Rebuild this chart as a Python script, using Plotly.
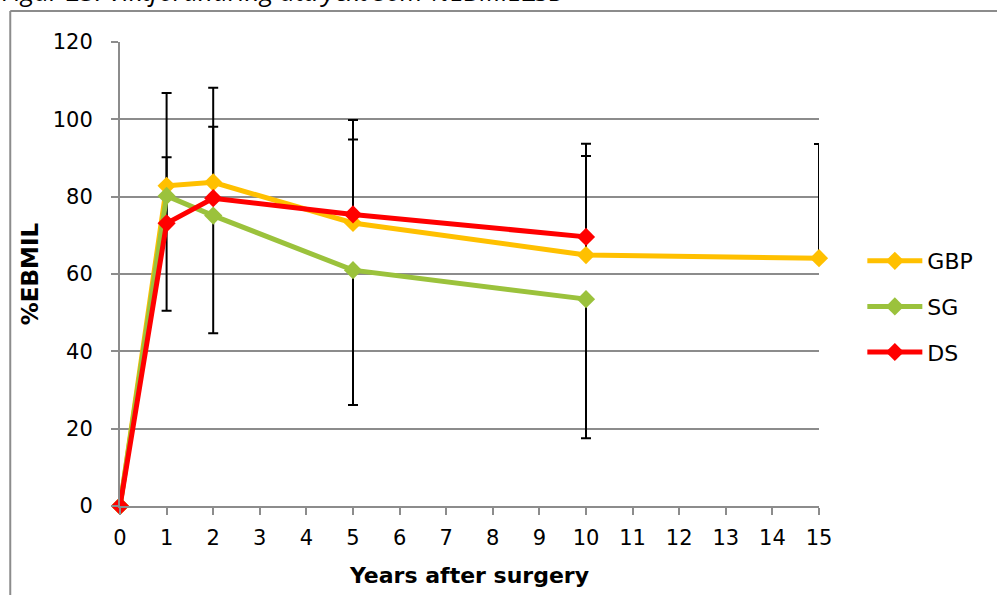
import plotly.graph_objects as go

# Follow-up years and mean %EBMIL per procedure
years = [0, 1, 2, 5, 10, 15]
gbp = [0, 82.8, 83.7, 73.2, 64.9, 64.1]
sg = [0, 80.2, 75.1, 61.0, 53.5]
ds = [0, 73.1, 79.6, 75.4, 69.6]

# Standard deviations (GBP/DS shown upward, SG shown downward)
gbp_sd = [None, 24.0, 24.5, 26.6, 28.8, 29.5]
sg_sd = [None, 29.7, 30.4, 34.9, 36.0]
ds_sd = [None, 17.1, 18.5, 19.4, 20.9]

x_ticks = list(range(0, 16))
y_ticks = [0, 20, 40, 60, 80, 100, 120]

series = [
    ("GBP", gbp, gbp_sd, "#FFC000", "up"),
    ("SG", sg, sg_sd, "#9BC23C", "down"),
    ("DS", ds, ds_sd, "#FF0000", "up"),
]

fig = go.Figure()

# Error bars first so the lines sit on top of them
for name, vals, sd, color, direction in series:
    xs = [years[i] for i in range(len(vals)) if sd[i] is not None]
    ys = [vals[i] for i in range(len(vals)) if sd[i] is not None]
    es = [sd[i] for i in range(len(vals)) if sd[i] is not None]
    zeros = [0] * len(es)
    fig.add_trace(go.Scatter(
        x=xs, y=ys, mode="markers",
        marker=dict(size=2, opacity=0),
        showlegend=False, hoverinfo="skip",
        error_y=dict(
            type="data", symmetric=False,
            array=es if direction == "up" else zeros,
            arrayminus=zeros if direction == "up" else es,
            color="#000000", thickness=2, width=5,
        ),
    ))

for i, (name, vals, sd, color, direction) in enumerate(series):
    fig.add_trace(go.Scatter(
        x=years[:len(vals)], y=vals, name=name,
        mode="lines+markers",
        line=dict(color=color, width=5),
        marker=dict(symbol="diamond", size=14, color=color),
        cliponaxis=False,
        legendgroup=name,
    ))

grid_col = "#8C8C8C"
fig.update_layout(
    width=997, height=595,
    margin=dict(l=120, r=178, t=42, b=89),
    paper_bgcolor="white", plot_bgcolor="white",
    font=dict(family="DejaVu Sans", size=21, color="#000000"),
    showlegend=True,
    legend=dict(
        x=1.062, y=0.43, xanchor="left", yanchor="middle",
        font=dict(family="DejaVu Sans", size=22),
        traceorder="grouped", tracegroupgap=14,
        itemwidth=55, bgcolor="rgba(0,0,0,0)",
    ),
    xaxis=dict(
        range=[0, 15], tickmode="array", tickvals=x_ticks,
        showgrid=False, zeroline=False,
        showline=True, linecolor=grid_col, linewidth=2,
        ticks="outside", ticklen=7, tickwidth=2, tickcolor=grid_col,
        ticklabelstandoff=5,
        tickfont=dict(size=21),
        title=dict(text="<b>Years after surgery</b>", font=dict(size=22), standoff=18),
    ),
    yaxis=dict(
        range=[0, 120], tickmode="array", tickvals=y_ticks,
        showgrid=True, gridcolor=grid_col, gridwidth=2, zeroline=False,
        showline=True, linecolor=grid_col, linewidth=2,
        ticks="outside", ticklen=7, tickwidth=2, tickcolor=grid_col,
        ticklabelstandoff=14,
        tickfont=dict(size=21),
        title=dict(text="<b>%EBMIL</b>", font=dict(size=23), standoff=8),
    ),
)

# Outer frame of the figure box (top and left edges)
fig.add_shape(type="line", xref="paper", yref="paper",
              x0=-0.157, x1=1.3, y0=1.0668, y1=1.0668,
              line=dict(color="#8C8C8C", width=2))
fig.add_shape(type="line", xref="paper", yref="paper",
              x0=-0.157, x1=-0.157, y0=1.0668, y1=-0.25,
              line=dict(color="#8C8C8C", width=2))

# Caption above the frame
fig.add_annotation(
    text="<i>Figur 23. Viktförändring uttryckt som %EBMIL±SD</i>",
    xref="paper", yref="paper", x=-0.172, y=1.066,
    xanchor="left", yanchor="bottom", showarrow=False,
    font=dict(family="Open Sans", size=26, color="#000000"),
)

fig.write_html("out.html")
